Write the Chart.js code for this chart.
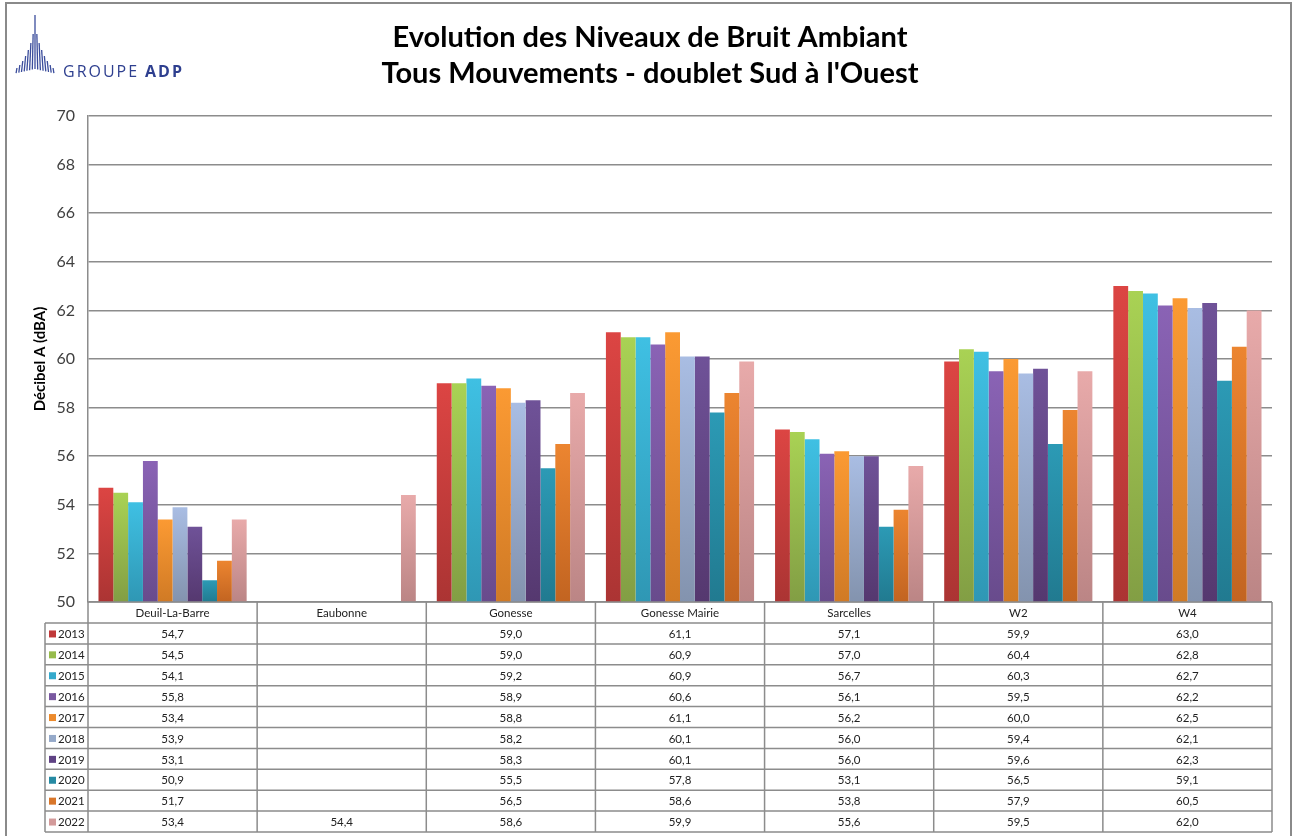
<!DOCTYPE html>
<html>
<head>
<meta charset="utf-8">
<script src="https://cdn.jsdelivr.net/npm/chart.js@4.4.0/dist/chart.umd.min.js"></script>
<style>
  html, body { margin: 0; padding: 0; background: #fff; }
  #wrap { position: relative; width: 1296px; height: 836px; }
</style>
</head>
<body>
<div id="wrap"><canvas id="chart"></canvas></div>
<script>
const categories = ["Deuil-La-Barre", "Eaubonne", "Gonesse", "Gonesse Mairie", "Sarcelles", "W2", "W4"];
const years = ["2013", "2014", "2015", "2016", "2017", "2018", "2019", "2020", "2021", "2022"];

const v2013 = [54.7, null, 59.0, 61.1, 57.1, 59.9, 63.0];
const v2014 = [54.5, null, 59.0, 60.9, 57.0, 60.4, 62.8];
const v2015 = [54.1, null, 59.2, 60.9, 56.7, 60.3, 62.7];
const v2016 = [55.8, null, 58.9, 60.6, 56.1, 59.5, 62.2];
const v2017 = [53.4, null, 58.8, 61.1, 56.2, 60.0, 62.5];
const v2018 = [53.9, null, 58.2, 60.1, 56.0, 59.4, 62.1];
const v2019 = [53.1, null, 58.3, 60.1, 56.0, 59.6, 62.3];
const v2020 = [50.9, null, 55.5, 57.8, 53.1, 56.5, 59.1];
const v2021 = [51.7, null, 56.5, 58.6, 53.8, 57.9, 60.5];
const v2022 = [53.4, 54.4, 58.6, 59.9, 55.6, 59.5, 62.0];
const yTicks = [50, 52, 54, 56, 58, 60, 62, 64, 66, 68, 70];

const seriesValues = [v2013, v2014, v2015, v2016, v2017, v2018, v2019, v2020, v2021, v2022];

// gradient colours, light at the top of a bar, dark at its base
const topColors = ["#dc4543", "#a9d254", "#3fc0e3", "#8a63b5", "#fb9a33", "#a9bde3", "#6f5298", "#2c9ab5", "#ec8530", "#e8aaaa"];
const bottomColors = ["#ab3433", "#829e44", "#2f97b4", "#684b8c", "#d07a25", "#8393ae", "#55386f", "#217a90", "#c26421", "#bb8585"];
const swatchColors = ["#c0393a", "#96bb4c", "#35a9cc", "#7958a0", "#ec8a2c", "#95a9c9", "#5f4284", "#268aa3", "#d8762a", "#d39a9a"];

const gridGray = "#8c8c8c";
const fmt = v => v == null ? "" : v.toFixed(1).replace(".", ",");

function barFill(i) {
  return ctx => {
    const chart = ctx.chart;
    const area = chart.chartArea;
    const v = ctx.raw;
    if (!area || v == null || !chart.scales.y) return swatchColors[i];
    const yTop = chart.scales.y.getPixelForValue(v);
    const g = chart.ctx.createLinearGradient(0, yTop, 0, area.bottom);
    g.addColorStop(0, topColors[i]);
    g.addColorStop(1, bottomColors[i]);
    return g;
  };
}

const datasets = years.map((y, i) => ({
  label: y,
  data: seriesValues[i],
  backgroundColor: barFill(i),
  borderWidth: 0,
  categoryPercentage: 0.876,
  barPercentage: 1.0
}));

// frame, logo and title
const decorPlugin = {
  id: "decor",
  beforeDraw(chart) {
    const c = chart.ctx;
    c.save();
    c.fillStyle = "#fff";
    c.fillRect(0, 0, chart.width, chart.height);
    c.strokeStyle = "#8a8a8a";
    c.lineWidth = 2;
    c.strokeRect(6, 3, 1285, 900);

    // logo fan
    c.strokeStyle = "#3b4d9c";
    c.lineWidth = 1.3;
    const tops = [15, 34, 43, 50, 56, 61, 65, 68];
    for (let k = -7; k <= 7; k++) {
      const a = Math.abs(k);
      const bx = 35 + k * 2.7, by = 69 + a * 0.6;
      const cx = 35, cy = -45;
      const ty = tops[a];
      const t = (by - ty) / (by - cy);
      const tx = bx + (cx - bx) * t;
      c.beginPath();
      c.moveTo(bx, by);
      c.lineTo(tx, ty);
      c.stroke();
    }
    c.fillStyle = "#2e3f8f";
    c.textBaseline = "alphabetic";
    c.textAlign = "left";
    c.font = "16px 'Open Sans'";
    c.letterSpacing = "2px";
    c.fillText("GROUPE", 63, 77);
    c.font = "bold 16px 'Open Sans'";
    c.fillText("ADP", 145, 77);
    c.letterSpacing = "0px";

    // title
    c.fillStyle = "#000";
    c.textAlign = "center";
    c.textBaseline = "middle";
    c.font = "bold 29px Lato";
    c.fillText("Evolution des Niveaux de Bruit Ambiant", 650, 38);
    c.fillText("Tous Mouvements - doublet Sud à l'Ouest", 650, 74);
    c.restore();
  }
};

// data table under the plot, aligned on the x scale
const tablePlugin = {
  id: "dataTable",
  afterDraw(chart) {
    const c = chart.ctx;
    const area = chart.chartArea;
    const xs = chart.scales.x;
    const cw = (area.right - area.left) / categories.length;
    const top = area.bottom;
    const headH = 21;
    const rowH = 20.9;
    const legL = 45;
    const bottom = top + headH + rowH * years.length;

    c.save();
    c.strokeStyle = gridGray;
    c.lineWidth = 1.5;
    // horizontal lines
    c.beginPath();
    c.moveTo(area.left, top);
    c.lineTo(area.right, top);
    for (let r = 0; r <= years.length; r++) {
      const y = top + headH + r * rowH;
      c.moveTo(legL, y);
      c.lineTo(area.right, y);
    }
    // vertical lines
    for (let i = 0; i <= categories.length; i++) {
      const x = area.left + i * cw;
      c.moveTo(x, top);
      c.lineTo(x, bottom);
    }
    c.moveTo(legL, top + headH);
    c.lineTo(legL, bottom);
    c.stroke();

    c.fillStyle = "#222";
    c.textAlign = "center";
    c.textBaseline = "middle";
    c.font = "11.5px Lato";
    categories.forEach((cat, i) => {
      const x = xs.getPixelForValue(i);
      c.fillText(cat, x, top + headH / 2 + 1);
    });
    years.forEach((yr, r) => {
      const yc = top + headH + r * rowH + rowH / 2 + 1;
      c.fillStyle = swatchColors[r];
      c.fillRect(49, yc - 4, 7, 7);
      c.fillStyle = "#222";
      c.textAlign = "left";
      c.fillText(yr, 58, yc);
      c.textAlign = "center";
      seriesValues[r].forEach((v, i) => {
        c.fillText(fmt(v), xs.getPixelForValue(i), yc);
      });
    });
    c.restore();
  }
};

new Chart(document.getElementById("chart"), {
  type: "bar",
  data: { labels: categories, datasets: datasets },
  plugins: [decorPlugin, tablePlugin],
  options: {
    responsive: true,
    maintainAspectRatio: false,
    animation: false,
    layout: { padding: { top: 116, right: 24, bottom: 234, left: 0 } },
    plugins: {
      legend: { display: false },
      title: { display: false },
      tooltip: { enabled: false }
    },
    scales: {
      x: {
        ticks: { display: false },
        grid: { display: false },
        border: { display: false },
        afterFit(s) { s.height = 0; }
      },
      y: {
        min: 50,
        max: 70,
        afterFit(s) { s.width = 88; },
        afterBuildTicks(s) { s.ticks = yTicks.map(v => ({ value: v })); },
        ticks: {
          padding: 13,
          color: "#404040",
          font: { family: "Lato", size: 16 }
        },
        grid: { color: gridGray, lineWidth: 1.5, drawTicks: false },
        border: { display: true, color: gridGray, width: 1.5 },
        title: {
          display: true,
          text: "Décibel A (dBA)",
          color: "#000",
          font: { family: "Lato", size: 15, weight: "bold" },
          padding: { top: 31, bottom: 0 }
        }
      }
    }
  }
});
</script>
</body>
</html>
